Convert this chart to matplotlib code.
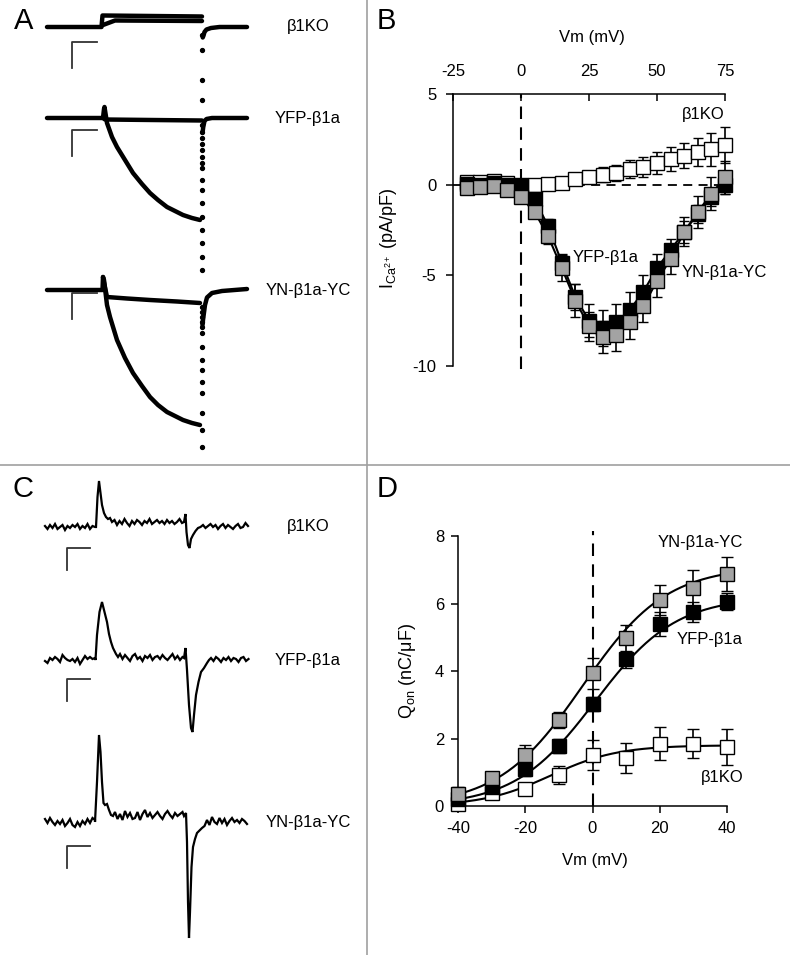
import numpy as np
import matplotlib
matplotlib.use('Agg')
import matplotlib.pyplot as plt
from matplotlib.lines import Line2D

plt.rcParams['font.family'] = ['Liberation Sans', 'DejaVu Sans']
plt.rcParams['mathtext.fontset'] = 'custom'
plt.rcParams['mathtext.rm'] = 'Liberation Sans'
plt.rcParams['mathtext.it'] = 'Liberation Sans:italic'
plt.rcParams['font.size'] = 12
plt.rcParams['axes.unicode_minus'] = False

labels = ['β1KO', 'YFP-β1a', 'YN-β1a-YC']

# ---- A: Ca2+ current sweeps (t in ms from pulse onset, I in nA) ----
ko_a_t1 = [-220, -2, 2, 400]
ko_a_i1 = [0, 0, 0.46, 0.42]
ko_a_t2 = [4, 52, 400]
ko_a_i2 = [0.08, 0.26, 0.24]
ko_a_t3 = [403, 406, 410, 418, 436, 470, 580]
ko_a_i3 = [-0.42, -0.34, -0.2, -0.1, -0.04, 0, 0]
ko_a_tail = [-0.32, -0.92, -2.12, -2.92]

yfp_a_t1 = [-220, 4, 12, 200, 400]
yfp_a_i1 = [0, 0, -0.06, -0.08, -0.1]
yfp_a_t2 = [4, 8, 10, 20, 40, 60, 92, 124, 160, 192, 224, 260, 292, 324, 360, 392]
yfp_a_i2 = [0, 0.36, 0.44, -0.2, -0.76, -1.16, -1.68, -2.2, -2.64, -3.0, -3.28,
            -3.56, -3.72, -3.88, -4.0, -4.08]
yfp_a_t3 = [402, 405, 410, 418, 440, 580]
yfp_a_i3 = [-0.6, -0.36, -0.12, -0.04, 0, 0]
yfp_a_tail = [-0.3, -0.55, -0.8, -1.05, -1.3, -1.55, -1.8, -2.0, -2.48, -2.88,
              -3.4, -3.96, -4.48, -5.0, -5.56, -6.08]

yn_a_t1 = [-220, 2, 4, 8, 20, 100, 192, 300, 392]
yn_a_i1 = [0, 0, 0.52, 0.3, -0.28, -0.34, -0.4, -0.46, -0.52]
yn_a_t2 = [4, 8, 20, 32, 60, 92, 124, 160, 192, 224, 260, 292, 324, 360, 392]
yn_a_i2 = [0.52, 0.4, -0.6, -1.08, -2.0, -2.72, -3.32, -3.84, -4.28, -4.6,
           -4.88, -5.04, -5.2, -5.32, -5.4]
yn_a_t3 = [402, 404, 412, 420, 440, 480, 580]
yn_a_i3 = [-1.4, -1.2, -0.6, -0.3, -0.12, -0.04, 0.04]
yn_a_tail = [-0.7, -0.9, -1.1, -1.3, -1.5, -1.72, -2.28, -2.8, -3.2, -3.68,
             -4.12, -4.92, -5.6, -6.28]
tail_t = 401

# ---- C: charge movement traces (t in ms, I in pA) ----
c_step = 1.25
c_pre_start = -26.0
c_mid_start = [8.75, 11.5, 9.0]
c_post_start = [53.0, 57.0, 53.75]

ko_c_pre = [1, -2, 2, -1, 3, -2, 0, 2, -3, 1, -1, 2, 0, 3, -2, 1, -1, 3, -2, 1, 0]
ko_c_on_t = [-0.5, 0.25, 1, 1.75, 2.5, 3.5, 4.5, 5.5, 6.5, 7.5]
ko_c_on_i = [0, 30, 46, 34, 22, 14, 10, 8, 9, 5]
ko_c_mid = [7, 2, 6, 3, 8, 4, 1, 6, 3, 7, 5, 2, 6, 4, 8, 3, 5, 7, 4, 6, 3, 7, 4,
            6, 3, 5, 8, 4]
ko_c_off_t = [43.5, 44.25, 44.75, 45.5, 46.25, 47, 48, 49.25, 50.5, 51.75]
ko_c_off_i = [5, 13, -5, -18, -21, -12, -8, -4, -1, 0]
ko_c_post = [2, -1, 1, 3, 0, 2, -2, 1, 3, -1, 2, 0, -2, 1, 3, -1, 0, 4, 1]

yfp_c_pre = [-1, -3, 2, 0, 3, 1, -2, 5, 2, 0, -1, 1, -2, 2, -4, 0, 4, 1, 3, 1, 2]
yfp_c_on_t = [-0.75, 0, 1.25, 2.5, 3.5, 5, 6, 7, 8, 9.5, 10.5]
yfp_c_on_i = [0, 25, 48, 58, 50, 38, 26, 18, 12, 6, 3]
yfp_c_mid = [6, 1, 5, 2, -1, 4, 6, 1, 3, -1, 4, 2, 5, 0, 3, 4, 1, 5, 2, 0, 3, 6,
             1, 4, 0, 3]
yfp_c_off_t = [43.5, 44.25, 45, 46, 47, 47.75, 48.5, 49.5, 50.75, 52, 53.5, 55, 56]
yfp_c_off_i = [2, 12, -10, -45, -68, -72, -55, -35, -22, -12, -8, -3, 0]
yfp_c_post = [2, -1, 3, 1, -2, 2, 0, 3, -1, 2, 1, -2, 2, 3, -1, 1]

yn_c_pre = [3, -1, 4, 0, -3, 1, -2, 2, -4, -1, 3, -3, -5, 0, -4, 1, -2, 3, -1, 4, 2]
yn_c_on_t = [-1, 0, 1, 1.75, 2.5, 3.25, 4, 5, 6, 7, 8]
yn_c_on_i = [0, 40, 87, 70, 40, 19, 17, 18, 12, 7, 6]
yn_c_mid = [10, 3, 8, 2, 11, 5, 9, 3, 4, 10, 2, 8, 12, 5, 9, 4, 7, 10, 6, 3, 8,
            11, 7, 4, 9, 6, 8, 10]
yn_c_off_t = [43.5, 44.5, 45, 45.5, 46, 46.5, 47.25, 48, 49, 50, 51.5, 52.5]
yn_c_off_i = [6, 9, -20, -80, -116, -90, -45, -25, -17, -11, -8, -6]
yn_c_post = [-4, 2, -3, 5, 0, -2, 4, -1, 3, -3, 1, 4, 0, 2, -1, 3, 1, -2]

# ---- B: I-V relationship ----
vm_b = [-20, -15, -10, -5, 0, 5, 10, 15, 20, 25, 30, 35, 40, 45, 50, 55, 60, 65, 70, 75]
ko_b = [0.15, 0.15, 0.2, 0.1, 0.0, 0.0, 0.05, 0.1, 0.3, 0.45, 0.55, 0.65, 0.85,
        1.0, 1.2, 1.4, 1.6, 1.8, 1.95, 2.2]
ko_b_err = [0.1, 0.1, 0.1, 0.1, 0.1, 0.1, 0.15, 0.2, 0.25, 0.3, 0.4, 0.45, 0.5,
            0.55, 0.6, 0.65, 0.7, 0.75, 0.9, 1.0]
yfp_b = [0.05, 0.0, 0.1, 0.0, -0.1, -0.8, -2.3, -4.3, -6.2, -7.5, -7.9, -7.6,
         -6.9, -5.9, -4.6, -3.6, -2.6, -1.6, -0.7, 0.0]
yfp_b_err = [0.1, 0.1, 0.1, 0.1, 0.15, 0.3, 0.4, 0.5, 0.7, 0.9, 1.0, 1.0, 1.0,
             0.9, 0.8, 0.6, 0.6, 0.5, 0.5, 0.5]
yn_b = [-0.2, -0.15, -0.1, -0.3, -0.7, -1.5, -2.85, -4.6, -6.4, -7.8, -8.4, -8.3,
        -7.6, -6.7, -5.3, -4.1, -2.6, -1.5, -0.5, 0.4]
yn_b_err = [0.1, 0.1, 0.1, 0.15, 0.3, 0.3, 0.4, 0.7, 0.9, 0.8, 0.9, 0.9, 0.9,
            0.9, 0.9, 0.8, 0.8, 0.9, 0.9, 0.9]

# ---- D: Q-V relationship ----
vm_d = [-40, -30, -20, -10, 0, 10, 20, 30, 40]
yn_d = [0.37, 0.82, 1.5, 2.55, 3.93, 4.97, 6.1, 6.45, 6.87]
yn_d_err = [0.2, 0.2, 0.3, 0.25, 0.45, 0.4, 0.45, 0.55, 0.5]
yfp_d = [0.2, 0.55, 1.1, 1.78, 3.02, 4.35, 5.4, 5.75, 6.05]
yfp_d_err = [0.1, 0.15, 0.2, 0.2, 0.2, 0.25, 0.35, 0.3, 0.25]
ko_d = [0.05, 0.4, 0.5, 0.92, 1.52, 1.42, 1.85, 1.85, 1.75]
ko_d_err = [0.05, 0.1, 0.15, 0.27, 0.45, 0.45, 0.48, 0.43, 0.53]
# Boltzmann fit parameters: Qmax, V1/2, k  (YN, YFP, KO)
fit_qmax = [7.1, 6.2, 1.8]
fit_vhalf = [-3.0, 0.8, -12.5]
fit_k = [12.5, 12.0, 10.0]

GRAY = '#a3a3a3'
W, H = 790, 955
fig = plt.figure(figsize=(W / 100, H / 100), dpi=100)


def px_axes(x0, y0, x1, y1):
    return fig.add_axes([x0 / W, 1 - y1 / H, (x1 - x0) / W, (y1 - y0) / H])


# ---------------- panel A ----------------
axA = px_axes(0, 0, 367, 465)
axA.set_xlim(-102 * 4, (367 - 102) * 4)
axA.set_ylim(-465 / 25, 0)
axA.axis('off')
a_base = [27, 118, 290]
a_bar = [42, 130, 293]
a_sweeps = [
    [(ko_a_t1, ko_a_i1), (ko_a_t2, ko_a_i2), (ko_a_t3, ko_a_i3)],
    [(yfp_a_t1, yfp_a_i1), (yfp_a_t2, yfp_a_i2), (yfp_a_t3, yfp_a_i3)],
    [(yn_a_t1, yn_a_i1), (yn_a_t2, yn_a_i2), (yn_a_t3, yn_a_i3)],
]
a_tails = [ko_a_tail, yfp_a_tail, yn_a_tail]
for k in range(3):
    off = -a_base[k] / 25
    for t, i in a_sweeps[k]:
        axA.plot(t, np.array(i) + off, color='k', lw=3.2, solid_capstyle='round')
    tail = np.array(a_tails[k]) + off
    axA.plot([tail_t] * len(tail), tail, 'o', color='k', ms=2.8)
    axA.text((308 - 102) * 4, off, labels[k], ha='center', va='center', fontsize=12)
    b0 = -a_bar[k] / 25
    axA.plot([-120 + 100, -120, -120], [b0, b0, b0 - 1.04], color='#333333', lw=1.3)

# ---------------- panel C ----------------
axC = px_axes(0, 465, 367, 955)
axC.set_xlim(-97 / 2, (367 - 97) / 2)
axC.set_ylim(-490, 0)
axC.axis('off')
c_base = [527, 660, 822]
c_bar = [548, 679, 846]
c_parts = [
    (ko_c_pre, ko_c_on_t, ko_c_on_i, ko_c_mid, ko_c_off_t, ko_c_off_i, ko_c_post),
    (yfp_c_pre, yfp_c_on_t, yfp_c_on_i, yfp_c_mid, yfp_c_off_t, yfp_c_off_i, yfp_c_post),
    (yn_c_pre, yn_c_on_t, yn_c_on_i, yn_c_mid, yn_c_off_t, yn_c_off_i, yn_c_post),
]
for k, (pre, on_t, on_i, mid, off_t, off_i, post) in enumerate(c_parts):
    t = np.concatenate([c_pre_start + c_step * np.arange(len(pre)), on_t,
                        c_mid_start[k] + c_step * np.arange(len(mid)), off_t,
                        c_post_start[k] + c_step * np.arange(len(post))])
    i = np.concatenate([pre, on_i, mid, off_i, post]).astype(float)
    off = -(c_base[k] - 465)
    axC.plot(t, i + off, color='k', lw=1.6, solid_joinstyle='miter')
    axC.text((308 - 97) / 2, off, labels[k], ha='center', va='center', fontsize=12)
    b0 = -(c_bar[k] - 465)
    axC.plot([-15 + 11.5, -15, -15], [b0, b0, b0 - 22], color='#333333', lw=1.3)

# ---------------- panel B ----------------
axB = px_axes(453, 94, 725, 366)
axB.set_xlim(-25, 75)
axB.set_ylim(-10, 5)
for s in ['bottom', 'right']:
    axB.spines[s].set_visible(False)
for s in ['top', 'left']:
    axB.spines[s].set_linewidth(1.1)
axB.xaxis.tick_top()
axB.xaxis.set_label_position('top')
axB.set_xticks([-25, 0, 25, 50, 75])
axB.set_yticks([-10, -5, 0, 5])
axB.tick_params(axis='x', direction='in', length=5, width=1.1, pad=11, labelsize=12)
axB.tick_params(axis='y', direction='out', length=5, width=1.1, pad=7, labelsize=12)
axB.axhline(0, color='k', lw=1.3, ls=(0, (5, 3.5)), zorder=1)
axB.axvline(0, ymin=-0.01, ymax=1, color='k', lw=1.5, ls=(0, (6, 4)), zorder=1,
            clip_on=False)
axB.plot(vm_b, yfp_b, color='k', lw=1.5, zorder=2, clip_on=False)
axB.plot(vm_b, yn_b, color='k', lw=1.5, zorder=2, clip_on=False)
for y, e, fc, z in [(ko_b, ko_b_err, 'white', 3), (yfp_b, yfp_b_err, 'black', 4),
                    (yn_b, yn_b_err, GRAY, 5)]:
    cont = axB.errorbar(vm_b, y, yerr=e, fmt='s', ms=9.5, mfc=fc, mec='k', mew=1.0,
                        ecolor='k', elinewidth=1.2, capsize=3.5, capthick=1.2, zorder=z)
    for art in cont.get_children():
        art.set_clip_on(False)
axB.set_xlabel('Vm (mV)', fontsize=12)
axB.xaxis.set_label_coords(0.51, 1.19)
axB.set_ylabel(r'I$_{\mathrm{Ca}^{\mathrm{2+}}}$ (pA/pF)', fontsize=13)
axB.yaxis.set_label_coords(-0.2, 0.47)
axB.text(75, 3.86, 'β1KO', ha='right', va='center', fontsize=12)
axB.text(19, -4.0, 'YFP-β1a', ha='left', va='center', fontsize=12)
axB.text(59.2, -4.85, 'YN-β1a-YC', ha='left', va='center', fontsize=12)

# ---------------- panel D ----------------
axD = px_axes(458, 536, 727, 806)
axD.set_xlim(-40, 40)
axD.set_ylim(0, 8)
for s in ['top', 'right']:
    axD.spines[s].set_visible(False)
for s in ['bottom', 'left']:
    axD.spines[s].set_linewidth(1.1)
axD.set_xticks([-40, -20, 0, 20, 40])
axD.set_yticks([0, 2, 4, 6, 8])
axD.tick_params(direction='out', length=5, width=1.1, labelsize=12)
axD.tick_params(axis='x', pad=6)
axD.tick_params(axis='y', pad=5)
axD.axvline(0, ymin=0, ymax=1.02, color='k', lw=1.5, ls=(0, (6, 4)), zorder=1,
            clip_on=False)
vfit = np.linspace(-40, 40, 200)
for qm, vh, kk in zip(fit_qmax, fit_vhalf, fit_k):
    axD.plot(vfit, qm / (1 + np.exp((vh - vfit) / kk)), color='k', lw=1.5, zorder=2)
for y, e, fc, z in [(ko_d, ko_d_err, 'white', 3), (yfp_d, yfp_d_err, 'black', 4),
                    (yn_d, yn_d_err, GRAY, 5)]:
    cont = axD.errorbar(vm_d, y, yerr=e, fmt='s', ms=9.5, mfc=fc, mec='k', mew=1.0,
                        ecolor='k', elinewidth=1.2, capsize=4, capthick=1.2, zorder=z)
    for art in cont.get_children():
        art.set_clip_on(False)
axD.set_xlabel('Vm (mV)', fontsize=12)
axD.xaxis.set_label_coords(0.509, -0.175)
axD.set_ylabel(r'Q$_{\mathrm{on}}$ (nC/μF)', fontsize=13)
axD.yaxis.set_label_coords(-0.15, 0.5)
axD.text(44.8, 7.8, 'YN-β1a-YC', ha='right', va='center', fontsize=12)
axD.text(44.8, 4.92, 'YFP-β1a', ha='right', va='center', fontsize=12)
axD.text(44.8, 0.83, 'β1KO', ha='right', va='center', fontsize=12)

# ---------------- dividers and panel letters ----------------
fig.add_artist(Line2D([367 / W, 367 / W], [0, 1], color='#a0a0a0', lw=1.2))
fig.add_artist(Line2D([0, 1], [1 - 465 / H, 1 - 465 / H], color='#a0a0a0', lw=1.2))
for letter, x, y in [('A', 14, 7), ('B', 377, 7), ('C', 12, 475), ('D', 377, 475)]:
    fig.text(x / W, 1 - y / H, letter, fontsize=21, ha='left', va='top')

fig.savefig('out.png', dpi=100)
